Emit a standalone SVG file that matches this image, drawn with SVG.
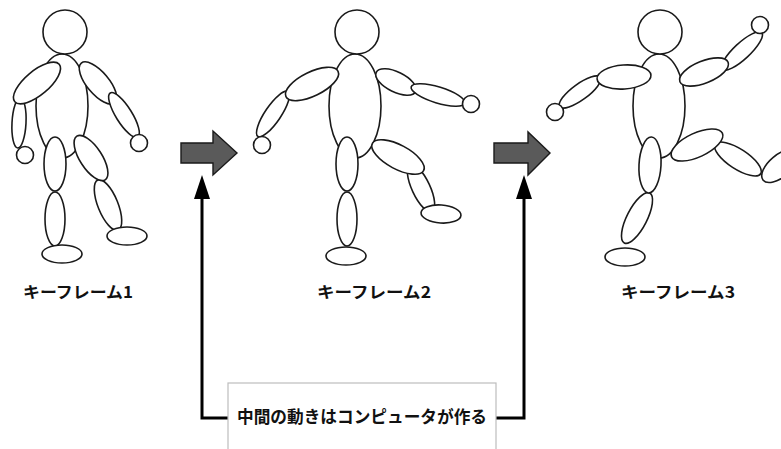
<svg xmlns="http://www.w3.org/2000/svg" width="781" height="449" viewBox="0 0 781 449">
  <style>
    .part { fill: #ffffff; stroke: #1a1a1a; stroke-width: 1.6; }
    .step { fill: #5a5a5a; stroke: #1a1a1a; stroke-width: 1.4; stroke-linejoin: miter; }
    .label { font-family: "Noto Sans CJK JP", "Noto Sans", sans-serif; font-weight: bold; font-size: 16px; fill: #111111; }
    .note { font-family: "Noto Sans CJK JP", "Noto Sans", sans-serif; font-weight: bold; font-size: 17px; fill: #111111; }
    .link { fill: none; stroke: #000000; stroke-width: 3; }
    .box { fill: #ffffff; stroke: #bdbdbd; stroke-width: 1.2; }
  </style>
  <defs>
    <!-- solid triangular head; tip lies 15px beyond the path end -->
    <marker id="tip" viewBox="0 0 24 16" refX="9" refY="8" markerWidth="24" markerHeight="16" markerUnits="userSpaceOnUse" orient="auto">
      <path d="M0,0 L24,8 L0,16 Z" fill="#000000"/>
    </marker>
  </defs>
  <rect width="781" height="449" fill="#ffffff"/>

  <!-- pose 1: standing -->
  <g id="figure1">
    <ellipse class="part" cx="62" cy="106" rx="26" ry="52"/>
    <circle class="part" cx="65" cy="32" r="22"/>
    <ellipse class="part" cx="55" cy="219" rx="10" ry="27"/>
    <ellipse class="part" cx="62" cy="254" rx="20" ry="9"/>
    <ellipse class="part" cx="108" cy="205" rx="27" ry="10" transform="rotate(68 108 205)"/>
    <ellipse class="part" cx="127" cy="236" rx="20" ry="9"/>
    <ellipse class="part" cx="55" cy="164" rx="11" ry="27"/>
    <ellipse class="part" cx="91" cy="158" rx="26" ry="11" transform="rotate(57 91 158)"/>
    <ellipse class="part" cx="19" cy="123" rx="7" ry="25" transform="rotate(3 19 123)"/>
    <circle class="part" cx="25" cy="155" r="8.5"/>
    <ellipse class="part" cx="37" cy="83" rx="29" ry="12" transform="rotate(-40 37 83)"/>
    <ellipse class="part" cx="98" cy="83" rx="26" ry="11" transform="rotate(50 98 83)"/>
    <ellipse class="part" cx="124" cy="115" rx="26" ry="8" transform="rotate(58 124 115)"/>
    <circle class="part" cx="139" cy="143" r="8.5"/>
  </g>

  <!-- pose 2: stepping -->
  <g id="figure2">
    <ellipse class="part" cx="355" cy="106" rx="26" ry="52"/>
    <circle class="part" cx="357" cy="32" r="22"/>
    <ellipse class="part" cx="347" cy="219" rx="10" ry="27"/>
    <ellipse class="part" cx="346" cy="256" rx="20" ry="9"/>
    <ellipse class="part" cx="421" cy="188" rx="26" ry="9" transform="rotate(65 421 188)"/>
    <ellipse class="part" cx="441" cy="214" rx="20" ry="9" transform="rotate(4 441 214)"/>
    <ellipse class="part" cx="347" cy="164" rx="11" ry="27"/>
    <ellipse class="part" cx="398" cy="157" rx="29" ry="12" transform="rotate(28 398 157)"/>
    <ellipse class="part" cx="273" cy="114" rx="27" ry="8" transform="rotate(-56 273 114)"/>
    <circle class="part" cx="262" cy="145" r="8.5"/>
    <ellipse class="part" cx="312" cy="84" rx="29" ry="12" transform="rotate(-26 312 84)"/>
    <ellipse class="part" cx="396" cy="82" rx="22" ry="10" transform="rotate(26 396 82)"/>
    <ellipse class="part" cx="438" cy="95" rx="28" ry="8" transform="rotate(17 438 95)"/>
    <circle class="part" cx="471" cy="104" r="8.5"/>
  </g>

  <!-- pose 3: kicking -->
  <g id="figure3">
    <ellipse class="part" cx="659" cy="106" rx="26" ry="52"/>
    <circle class="part" cx="660" cy="32" r="22"/>
    <ellipse class="part" cx="637" cy="218" rx="28" ry="10" transform="rotate(-63 637 218)"/>
    <ellipse class="part" cx="625" cy="257" rx="20" ry="9"/>
    <ellipse class="part" cx="650" cy="165" rx="11" ry="28" transform="rotate(3 650 165)"/>
    <ellipse class="part" cx="738" cy="159" rx="27" ry="10" transform="rotate(33 738 159)"/>
    <ellipse class="part" cx="780" cy="166" rx="22" ry="11" transform="rotate(-40 780 166)"/>
    <ellipse class="part" cx="697" cy="145" rx="28" ry="12" transform="rotate(-25 697 145)"/>
    <ellipse class="part" cx="580" cy="92" rx="25" ry="8" transform="rotate(-36 580 92)"/>
    <circle class="part" cx="555" cy="112" r="8.5"/>
    <ellipse class="part" cx="624" cy="77" rx="27" ry="12" transform="rotate(-4 624 77)"/>
    <ellipse class="part" cx="742" cy="51" rx="27" ry="8" transform="rotate(-43 742 51)"/>
    <ellipse class="part" cx="704" cy="72" rx="26" ry="11" transform="rotate(-22 704 72)"/>
    <circle class="part" cx="760" cy="25" r="8.5"/>
  </g>

  <!-- block arrows between poses -->
  <g id="step1">
    <polygon class="step" points="181,143 213,143 213,131 237,153 213,175 213,163 181,163"/>
  </g>
  <g id="step2">
    <polygon class="step" points="494,143 528,143 528,132 550,153 528,175 528,163 494,163"/>
  </g>

  <!-- pose captions -->
  <g id="label1"><text class="label" x="23" y="298" textLength="110" lengthAdjust="spacingAndGlyphs">キーフレーム1</text></g>
  <g id="label2"><text class="label" x="317" y="298" textLength="114" lengthAdjust="spacingAndGlyphs">キーフレーム2</text></g>
  <g id="label3"><text class="label" x="621" y="298" textLength="114" lengthAdjust="spacingAndGlyphs">キーフレーム3</text></g>

  <!-- bracket connectors from the note up to each step arrow -->
  <g id="connectors">
    <path class="link" d="M232,418 H202 V190" marker-end="url(#tip)"/>
    <path class="link" d="M492,418 H524 V190" marker-end="url(#tip)"/>
  </g>

  <!-- note box -->
  <g id="note">
    <rect class="box" x="228" y="383" width="268" height="80"/>
    <text class="note" x="237" y="423" textLength="250" lengthAdjust="spacingAndGlyphs">中間の動きはコンピュータが作る</text>
  </g>
</svg>
